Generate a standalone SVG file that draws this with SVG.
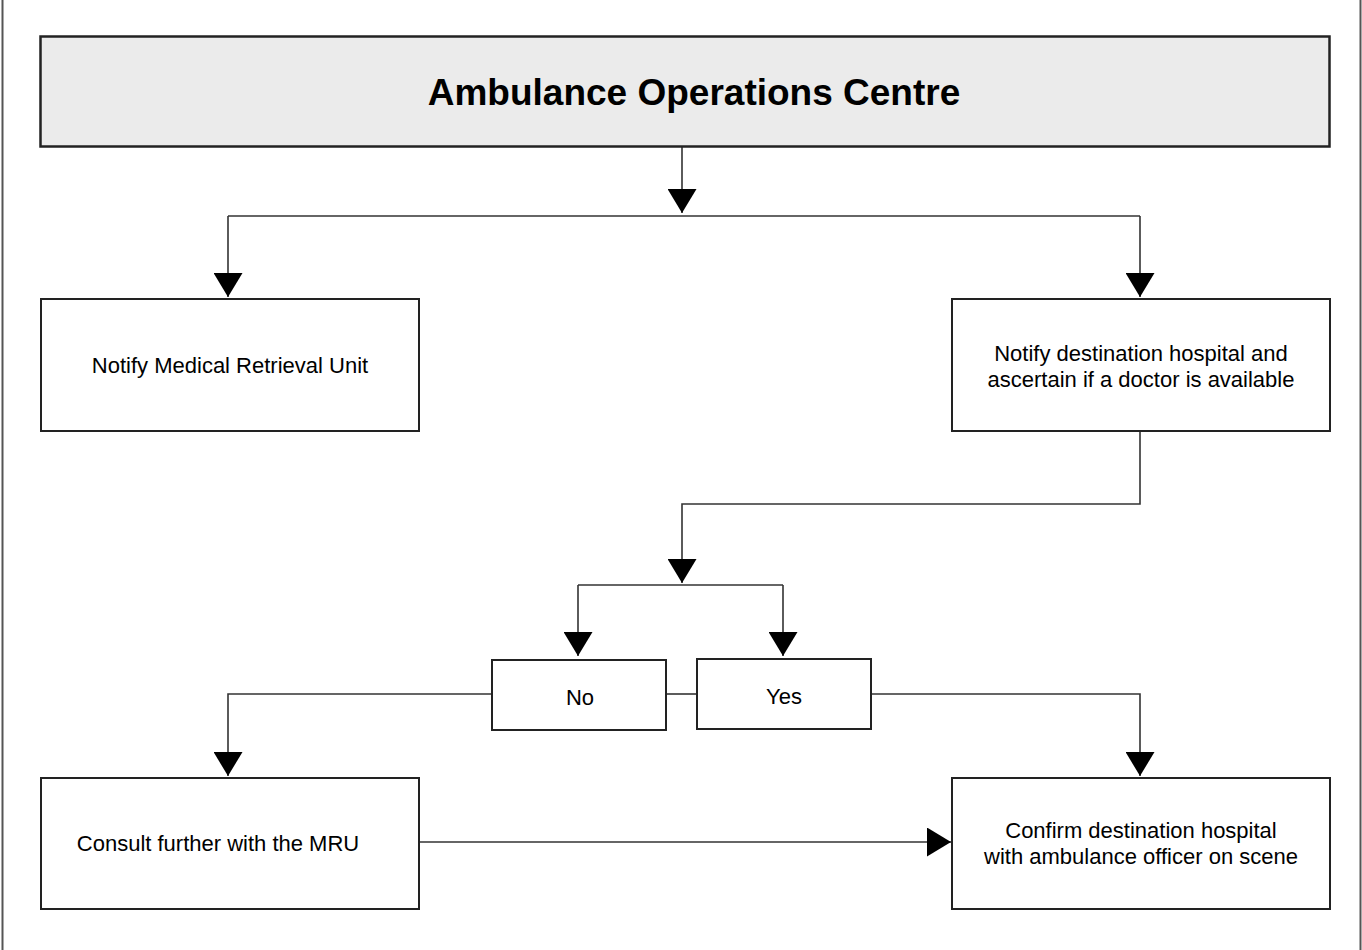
<svg xmlns="http://www.w3.org/2000/svg" width="1362" height="950" viewBox="0 0 1362 950">
<style>
.box{fill:#fff;stroke:#222;stroke-width:2}
.title{fill:#ebebeb;stroke:#222;stroke-width:2.5}
.ln{fill:none;stroke:#333;stroke-width:1.6}
.t{font-family:"Liberation Sans",Arial,sans-serif;font-size:22px;fill:#000;text-anchor:middle}
.tb{font-family:"Liberation Sans",Arial,sans-serif;font-size:37px;font-weight:bold;fill:#000;text-anchor:middle}
.edge{fill:none;stroke:#555;stroke-width:2}
</style>
<defs>
<marker id="ah" markerUnits="userSpaceOnUse" markerWidth="25" markerHeight="29" refX="24" refY="14.5" orient="auto" viewBox="0 0 25 29">
<path d="M0,0 L24,14.5 L0,29 Z" fill="#000"/>
</marker>
</defs>
<g id="frame">
<line class="edge" x1="2.5" y1="0" x2="2.5" y2="950"/>
<line class="edge" x1="1360.5" y1="0" x2="1360.5" y2="950"/>
</g>
<g id="connectors">
<path class="ln" d="M682,147 V213" marker-end="url(#ah)"/>
<path class="ln" d="M228,216 H1140"/>
<path class="ln" d="M228,216 V297" marker-end="url(#ah)"/>
<path class="ln" d="M1140,216 V297" marker-end="url(#ah)"/>
<path class="ln" d="M1140,431 V504 H682 V583" marker-end="url(#ah)"/>
<path class="ln" d="M578,585 H783"/>
<path class="ln" d="M578,585 V656" marker-end="url(#ah)"/>
<path class="ln" d="M783,585 V656" marker-end="url(#ah)"/>
<path class="ln" d="M492,694 H228 V776" marker-end="url(#ah)"/>
<path class="ln" d="M666,694 H697"/>
<path class="ln" d="M871,694 H1140 V776" marker-end="url(#ah)"/>
<path class="ln" d="M419,842 H951" marker-end="url(#ah)"/>
</g>
<g id="n-aoc">
<rect class="title" x="40.5" y="36.5" width="1289" height="110"/>
<text class="tb" x="694" y="105">Ambulance Operations Centre</text>
</g>
<g id="n-mru">
<rect class="box" x="41" y="299" width="378" height="132"/>
<text class="t" x="230" y="373">Notify Medical Retrieval Unit</text>
</g>
<g id="n-hosp">
<rect class="box" x="952" y="299" width="378" height="132"/>
<text class="t" x="1141" y="361">Notify destination hospital and</text>
<text class="t" x="1141" y="387">ascertain if a doctor is available</text>
</g>
<g id="n-no">
<rect class="box" x="492" y="660" width="174" height="70"/>
<text class="t" x="580" y="705">No</text>
</g>
<g id="n-yes">
<rect class="box" x="697" y="659" width="174" height="70"/>
<text class="t" x="784" y="704">Yes</text>
</g>
<g id="n-consult">
<rect class="box" x="41" y="778" width="378" height="131"/>
<text class="t" x="218" y="851">Consult further with the MRU</text>
</g>
<g id="n-confirm">
<rect class="box" x="952" y="778" width="378" height="131"/>
<text class="t" x="1141" y="838">Confirm destination hospital</text>
<text class="t" x="1141" y="864">with ambulance officer on scene</text>
</g>
</svg>
